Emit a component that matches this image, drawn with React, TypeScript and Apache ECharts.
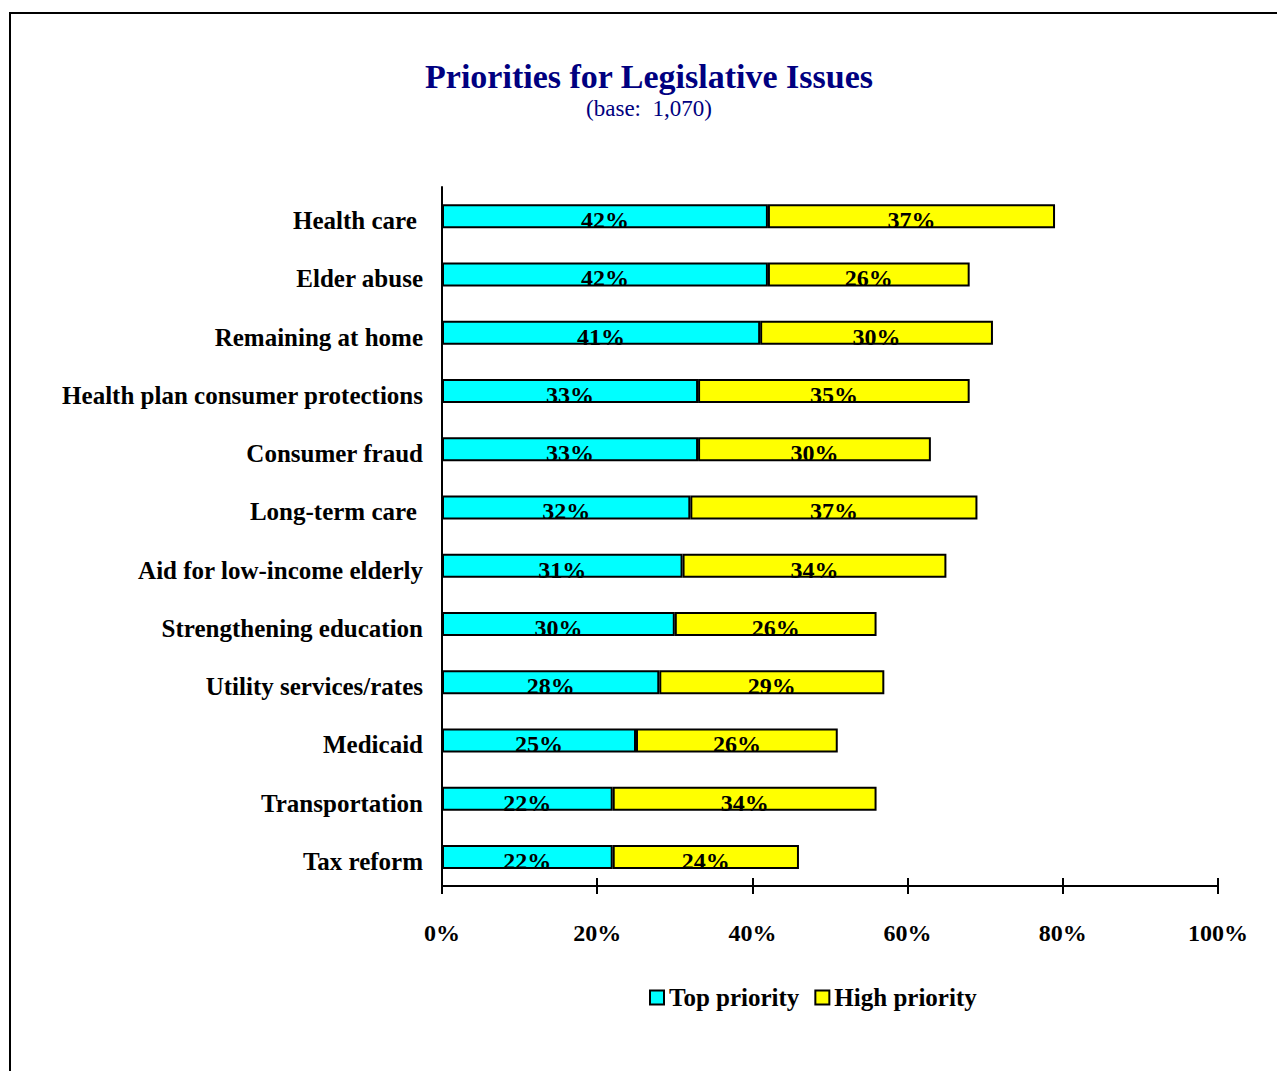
import React, { useEffect, useRef } from "react";
import * as echarts from "echarts";

const categories = [
  "Health care ",
  "Elder abuse",
  "Remaining at home",
  "Health plan consumer protections",
  "Consumer fraud",
  "Long-term care ",
  "Aid for low-income elderly",
  "Strengthening education",
  "Utility services/rates",
  "Medicaid",
  "Transportation",
  "Tax reform",
];
const topPriority = [42, 42, 41, 33, 33, 32, 31, 30, 28, 25, 22, 22];
const highPriority = [37, 26, 30, 35, 30, 37, 34, 26, 29, 26, 34, 24];
const seriesNames = ["Top priority", "High priority"];
const titleText = "Priorities for Legislative Issues";
const subtitleText = "(base:  1,070)";

const FONT = "'Liberation Serif', 'Times New Roman', serif";

export default function App() {
  const ref = useRef<HTMLDivElement>(null);
  useEffect(() => {
    document.body.style.margin = "0";
    if (!ref.current) return;
    const chart = echarts.init(ref.current, undefined, { renderer: "svg" });
    const labelCfg = {
      show: true,
      position: "inside",
      formatter: "{c}%",
      color: "#000",
      fontFamily: FONT,
      fontWeight: "bold",
      fontSize: 24,
      offset: [0, 4],
    };
    const xAxisBase = {
      type: "value",
      min: 0,
      max: 100,
      interval: 20,
      gridIndex: 0,
      position: "bottom",
      splitLine: { show: false },
    };
    chart.setOption({
      animation: false,
      backgroundColor: "#fff",
      textStyle: { fontFamily: FONT },
      graphic: [
        {
          type: "rect",
          shape: { x: 10, y: 13, width: 1400, height: 1200 },
          style: { fill: "none", stroke: "#000", lineWidth: 2 },
          silent: true,
        },
        {
          type: "text",
          x: 649,
          y: 76,
          style: {
            text: titleText,
            fill: "#000080",
            font: `bold 34px ${FONT}`,
            textAlign: "center",
            textVerticalAlign: "middle",
          },
        },
        {
          type: "text",
          x: 649,
          y: 108,
          style: {
            text: subtitleText,
            fill: "#000080",
            font: `23px ${FONT}`,
            textAlign: "center",
            textVerticalAlign: "middle",
          },
        },
      ],
      grid: { left: 442, right: 59, top: 187, bottom: 185, containLabel: false },
      legend: {
        left: 644,
        top: 980,
        icon: "rect",
        itemWidth: 14,
        itemHeight: 14,
        itemGap: 15,
        textStyle: { fontFamily: FONT, fontWeight: "bold", fontSize: 25, color: "#000" },
        data: seriesNames.map((n) => ({ name: n, itemStyle: { borderColor: "#000", borderWidth: 2 } })),
      },
      xAxis: [
        {
          ...xAxisBase,
          axisLine: { show: true, lineStyle: { color: "#000", width: 2 } },
          axisTick: { show: true, inside: false, length: 8, lineStyle: { color: "#000", width: 2 } },
          axisLabel: {
            formatter: "{value}%",
            color: "#000",
            fontFamily: FONT,
            fontWeight: "bold",
            fontSize: 24,
            margin: 35,
          },
        },
        {
          ...xAxisBase,
          axisLine: { show: false },
          axisTick: { show: true, inside: true, length: 8, lineStyle: { color: "#000", width: 2 } },
          axisLabel: { show: false },
        },
      ],
      yAxis: {
        type: "category",
        data: categories,
        inverse: true,
        axisLine: { show: true, lineStyle: { color: "#000", width: 2 } },
        axisTick: { show: false },
        axisLabel: {
          color: "#000",
          fontFamily: FONT,
          fontWeight: "bold",
          fontSize: 25,
          margin: 19,
          verticalAlign: "top",
          lineHeight: 9,
        },
      },
      series: [
        {
          name: seriesNames[0],
          type: "bar",
          stack: "total",
          data: topPriority,
          barWidth: 24,
          itemStyle: { color: "#00FFFF", borderColor: "#000", borderWidth: 2 },
          label: labelCfg,
        },
        {
          name: seriesNames[1],
          type: "bar",
          stack: "total",
          data: highPriority,
          barWidth: 24,
          itemStyle: { color: "#FFFF00", borderColor: "#000", borderWidth: 2 },
          label: labelCfg,
        },
      ],
    });
    return () => chart.dispose();
  }, []);
  return <div ref={ref} style={{ width: 1277, height: 1071 }} />;
}
